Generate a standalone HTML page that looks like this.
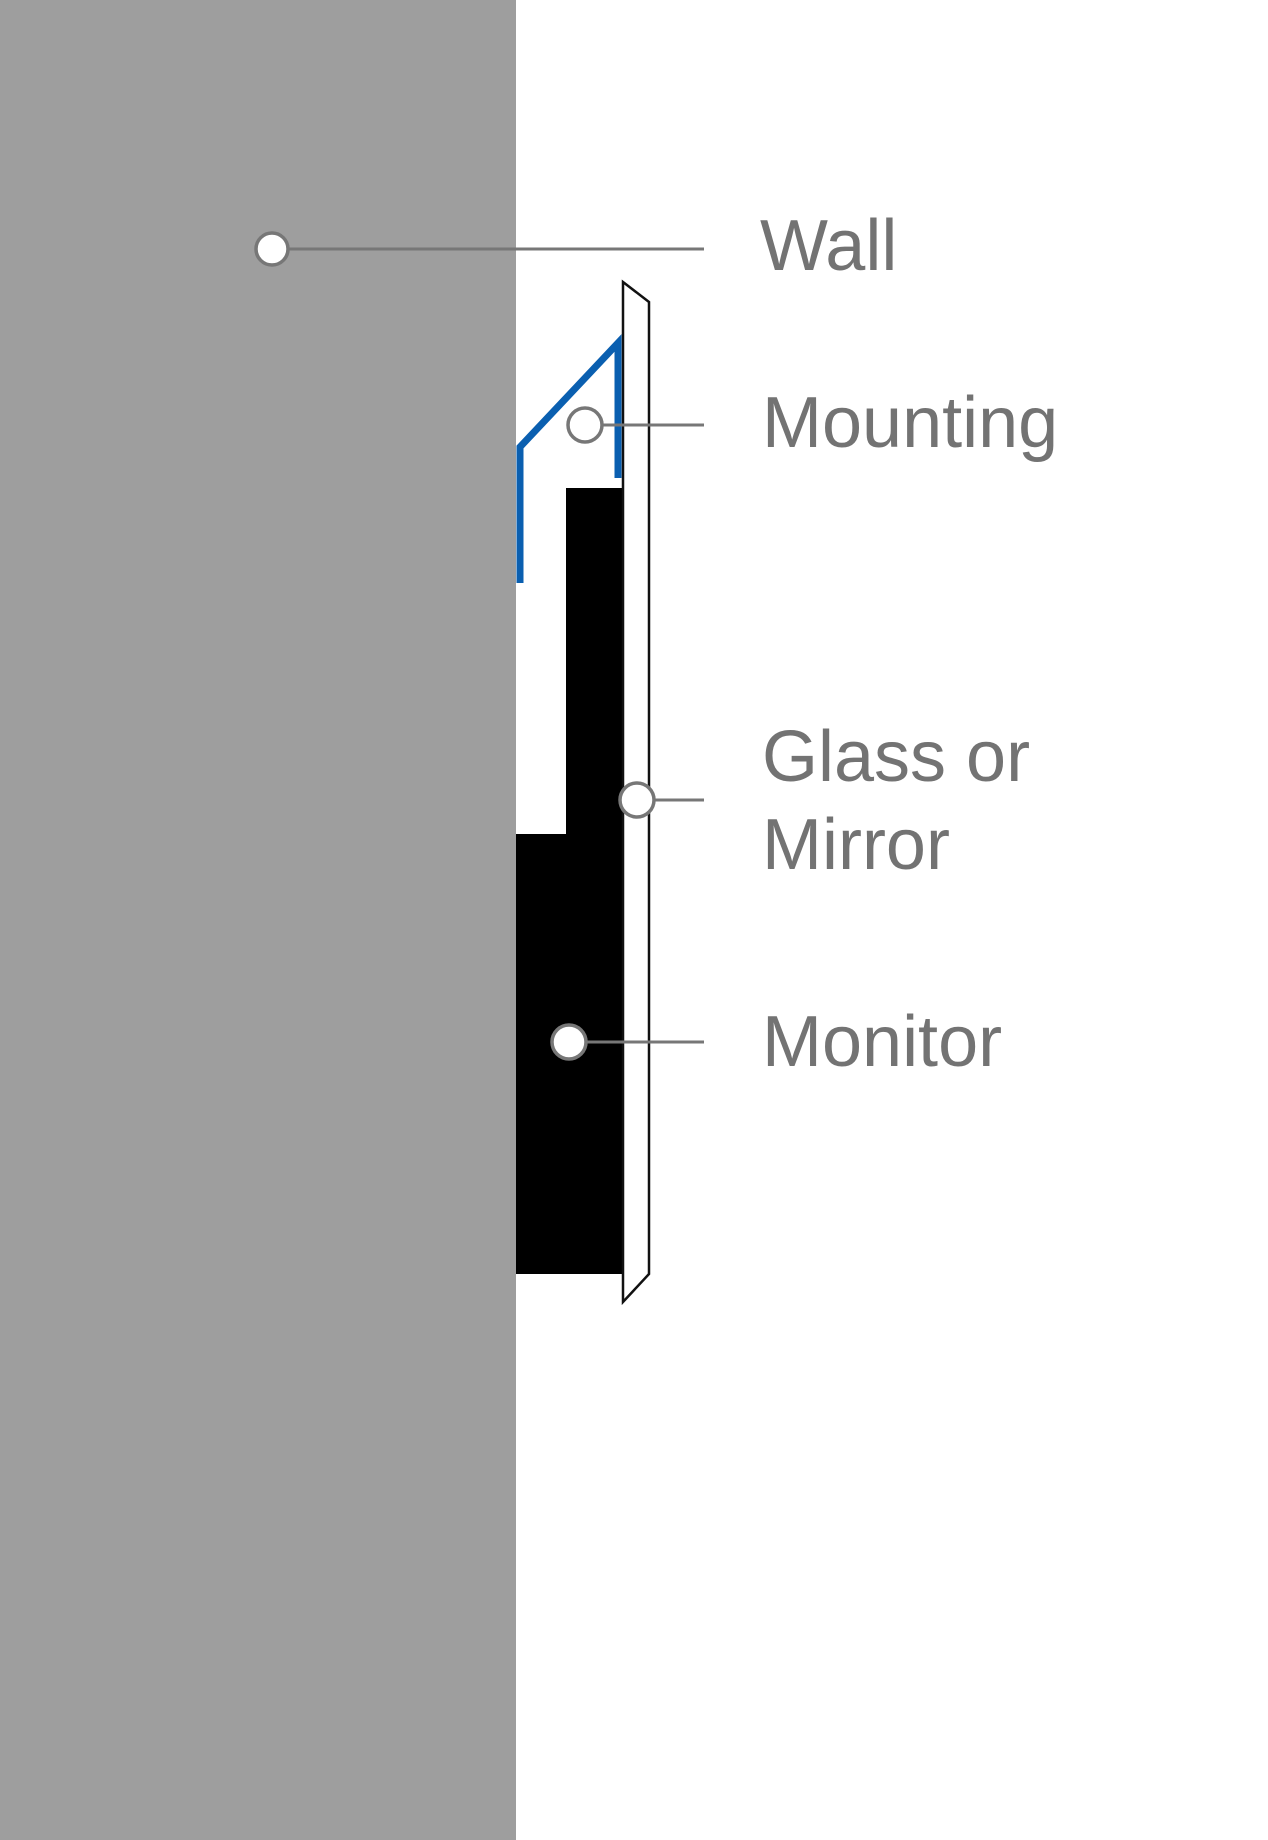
<!DOCTYPE html>
<html><head><meta charset="utf-8"><style>
html,body{margin:0;padding:0;background:#fff;}
svg{display:block}
</style></head><body>
<svg width="1268" height="1840" viewBox="0 0 1268 1840" xmlns="http://www.w3.org/2000/svg">
<rect x="0" y="0" width="1268" height="1840" fill="#fff"/>
<rect x="0" y="0" width="516" height="1840" fill="#9e9e9e"/>
<polygon points="566,488 623,488 623,1274 516,1274 516,834 566,834" fill="#000"/>
<polygon points="623,282 649,302 649,1274 623,1302" fill="#fff" stroke="#111" stroke-width="2.5"/>
<polyline points="520,583 520,447 618,343 618,478" fill="none" stroke="#0a5fb0" stroke-width="7"/>
<g stroke="#777" stroke-width="3" fill="none">
<line x1="272" y1="249" x2="704" y2="249"/>
<line x1="585" y1="425" x2="704" y2="425"/>
<line x1="637" y1="800" x2="704" y2="800"/>
<line x1="569" y1="1042" x2="704" y2="1042"/>
</g>
<g fill="#fff" stroke="#777" stroke-width="3.5">
<circle cx="272" cy="249" r="16"/>
<circle cx="585" cy="425" r="17"/>
<circle cx="637" cy="800" r="17"/>
<circle cx="569" cy="1042" r="17"/>
</g>
<g font-family="Liberation Sans, sans-serif" font-size="72" fill="#737373">
<text x="760" y="270">Wall</text>
<text x="762" y="447">Mounting</text>
<text x="762" y="781">Glass or</text>
<text x="762" y="869">Mirror</text>
<text x="762" y="1066">Monitor</text>
</g>
</svg>
</body></html>
